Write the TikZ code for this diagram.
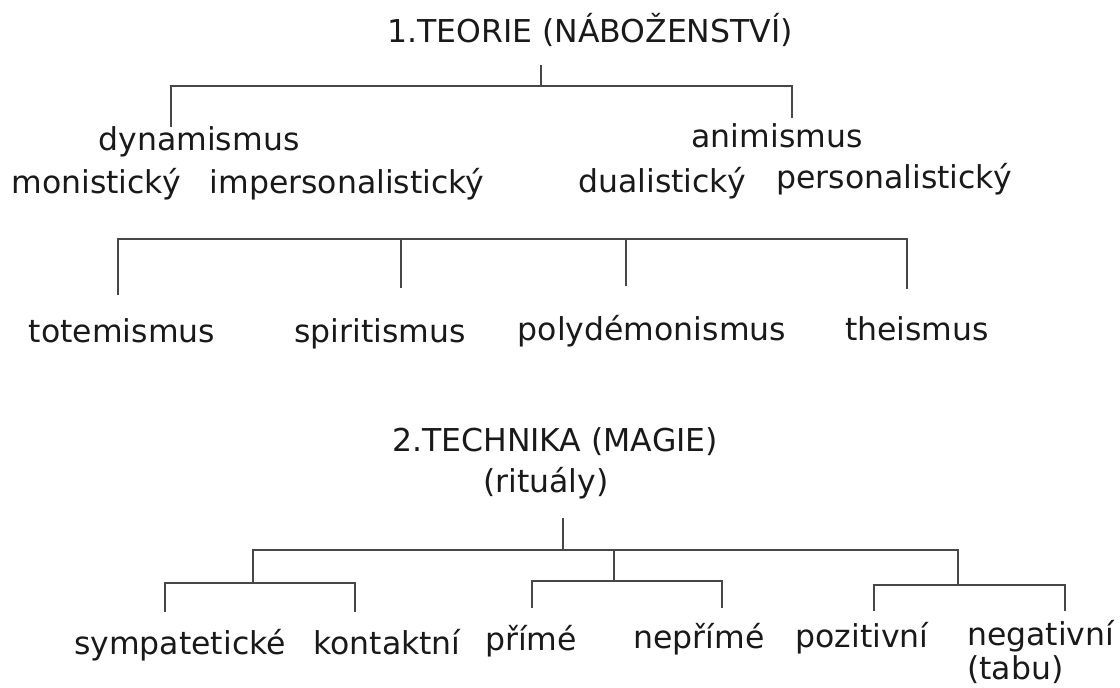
\documentclass[tikz,border=0pt]{standalone}
\usepackage{fontspec}
\setmainfont{DejaVu Sans}

\begin{document}
\begin{tikzpicture}[x=1pt,y=-1pt]
\tikzset{
	lbl/.style={anchor=base,
		inner sep=0pt,
		text=black!90,
		font=\fontsize{31.5}{38}\selectfont
	},
	lblw/.style={lbl, anchor=base west},
	branch/.style={draw=black!72, line width=1.8pt}
}
\useasboundingbox (0,0) rectangle (1120,688);
% 1. teorie
\node[lbl] (TEORIE) at (590,42) {1.TEORIE (NÁBOŽENSTVÍ)};
\node[lbl] (DYN) at (199,150) {dynamismus};
\node[lbl] (MON) at (96,193) {monistický};
\node[lbl] (IMP) at (347,193) {impersonalistický};
\node[lbl] (ANI) at (777,147) {animismus};
\node[lbl] (DUA) at (662,192) {dualistický};
\node[lbl] (PER) at (894,188) {personalistický};
\coordinate (T-stem) at (541,65);
\coordinate (T-bar) at (541,86);
\coordinate (DYN-in) at (171,127);
\coordinate (ANI-in) at (792,118);
\draw[branch] (T-stem) -- (T-bar);
\draw[branch] (DYN-in) |- (T-bar) -| (ANI-in);
% druhy
\node[lbl] (TOT) at (122,342) {totemismus};
\node[lbl] (SPI) at (380,342) {spiritismus};
\node[lbl] (POL) at (652,340) {polydémonismus};
\node[lbl] (THE) at (917,340) {theismus};
\coordinate (K-bar) at (907,239);
\coordinate (TOT-in) at (118,295);
\coordinate (SPI-in) at (401,288);
\coordinate (POL-in) at (626,286);
\coordinate (THE-in) at (907,289);
\draw[branch] (TOT-in) |- (K-bar) -- (THE-in);
\draw[branch] (SPI-in) -- (SPI-in |- K-bar);
\draw[branch] (POL-in) -- (POL-in |- K-bar);
% 2. technika
\node[lbl] (TECH) at (555,451) {2.TECHNIKA (MAGIE)};
\node[lbl] (RIT) at (546,492) {(rituály)};
\node[lbl] (SYM) at (180,654) {sympatetické};
\node[lbl] (KON) at (387,654) {kontaktní};
\node[lbl] (PRI) at (531,650) {přímé};
\node[lbl] (NEP) at (699,648) {nepřímé};
\node[lbl] (POZ) at (862,647) {pozitivní};
\node[lblw] (NEG) at (967,645) {negativní};
\node[lblw] (TAB) at (967,679) {(tabu)};
\coordinate (M-stem) at (563,518);
\coordinate (M-bar) at (563,550);
\coordinate (S-bar) at (253,583);
\coordinate (P-bar) at (614,581);
\coordinate (Z-bar) at (958,585);
\coordinate (SYM-in) at (165,612);
\coordinate (KON-in) at (355,612);
\coordinate (PRI-in) at (532,608);
\coordinate (NEP-in) at (722,608);
\coordinate (POZ-in) at (874,611);
\coordinate (NEG-in) at (1065,611);
\draw[branch] (M-stem) -- (M-bar);
\draw[branch] (S-bar) |- (M-bar) -| (Z-bar);
\draw[branch] (P-bar) -- (P-bar |- M-bar);
\draw[branch] (SYM-in) |- (S-bar) -| (KON-in);
\draw[branch] (PRI-in) |- (P-bar) -| (NEP-in);
\draw[branch] (POZ-in) |- (Z-bar) -| (NEG-in);

\end{tikzpicture}
\end{document}
